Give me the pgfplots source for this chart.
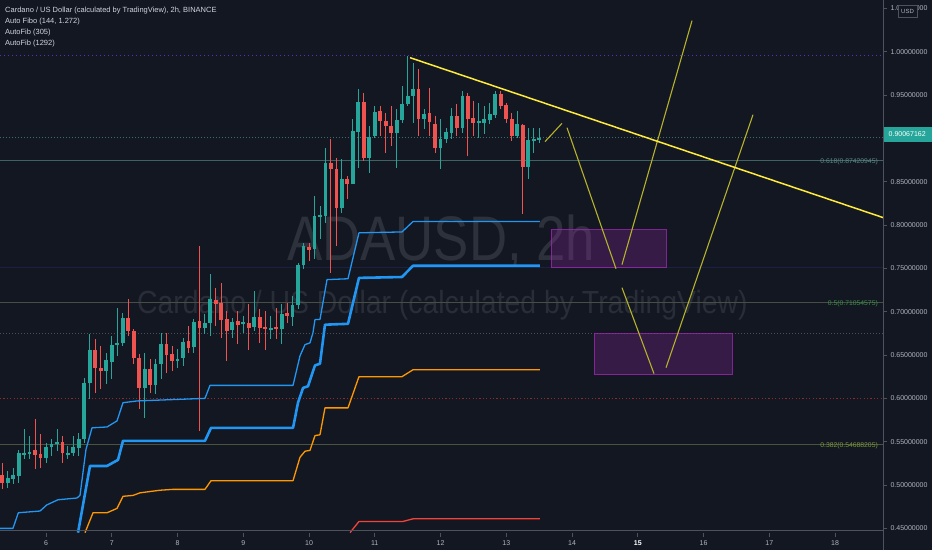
\documentclass[border=0pt]{standalone}
\usepackage{fontspec}
\setmainfont{Liberation Sans}
\usepackage{pgfplots}
\usepackage{pgfplotstable}
\pgfplotsset{compat=1.18}
\definecolor{bg}{HTML}{131722}
\definecolor{upc}{HTML}{26A69A}
\definecolor{dnc}{HTML}{EF5350}
\definecolor{axc}{HTML}{4C525E}
\definecolor{labc}{HTML}{B2B5BE}
\definecolor{legc}{HTML}{D1D4DC}
\definecolor{blu}{HTML}{2196F3}
\definecolor{org}{HTML}{FF9800}
\definecolor{rdl}{HTML}{F44336}
\definecolor{yel}{HTML}{FFEB3B}
\definecolor{oli}{HTML}{B5B22C}
\definecolor{rectc}{HTML}{9C27B0}
\definecolor{fibA}{HTML}{3F6363}
\definecolor{fibAt}{HTML}{5B8C88}
\definecolor{fibB}{HTML}{464E46}
\definecolor{fibBt}{HTML}{3F8F46}
\definecolor{fibC}{HTML}{4A5240}
\definecolor{fibCt}{HTML}{7F9A3A}
\definecolor{purd}{HTML}{5E2EB8}
\definecolor{redd}{HTML}{8B2C2C}
\definecolor{gryd}{HTML}{4A4E58}
\definecolor{prcd}{HTML}{3E6A68}
\definecolor{navy}{HTML}{1C2142}
\definecolor{wmA}{HTML}{2D313C}
\definecolor{wmB}{HTML}{292D38}

\pgfplotstableread{
t o h l c
5.4167 0.5027 0.5166 0.4970 0.5085
5.5 0.5073 0.5200 0.5008 0.5111
5.5833 0.5104 0.5408 0.5027 0.5365
5.6667 0.5350 0.5642 0.5296 0.5373
5.75 0.5365 0.5569 0.5296 0.5381
6.0 0.5316 0.5489 0.5258 0.5443
6.0833 0.5443 0.5527 0.5335 0.5469
6.1667 0.5469 0.5642 0.5393 0.5497
6.3333 0.5354 0.5451 0.5296 0.5373
6.4167 0.5373 0.5566 0.5335 0.5443
6.5 0.5431 0.5604 0.5335 0.5535
6.5833 0.5527 0.6239 0.5489 0.6181
6.6667 0.6181 0.6738 0.5988 0.6558
6.9167 0.6316 0.6527 0.6161 0.6443
7.0 0.6420 0.6720 0.6219 0.6611
7.0833 0.6611 0.7046 0.6489 0.6642
7.1667 0.6642 0.6989 0.6604 0.6931
7.5 0.6123 0.6527 0.5777 0.6334
7.6667 0.6150 0.6450 0.6046 0.6392
7.75 0.6392 0.6758 0.6219 0.6623
8.0 0.6431 0.6565 0.6354 0.6458
8.0833 0.6469 0.6700 0.6374 0.6651
8.25 0.6593 0.6911 0.6527 0.6885
8.4167 0.6816 0.6969 0.6738 0.6873
8.5 0.6865 0.7431 0.6720 0.7142
8.8333 0.6784 0.6931 0.6700 0.6885
9.0 0.6854 0.6951 0.6758 0.6881
9.1667 0.6819 0.7239 0.6777 0.6942
9.4167 0.6796 0.6951 0.6681 0.6816
9.5833 0.6796 0.7084 0.6623 0.6969
9.75 0.6942 0.7181 0.6835 0.7073
9.8333 0.7073 0.7566 0.7027 0.7534
9.9167 0.7534 0.7796 0.7488 0.7758
10.0833 0.7719 0.8335 0.7604 0.8104
10.1667 0.8096 0.8223 0.7834 0.8111
10.25 0.8104 0.8892 0.8027 0.8719
10.5 0.8200 0.8757 0.8142 0.8527
10.6667 0.8469 0.9219 0.8469 0.9085
10.75 0.9074 0.9565 0.8662 0.9420
10.9167 0.8777 0.9143 0.8604 0.9016
11.0 0.9027 0.9374 0.9008 0.9304
11.3333 0.9057 0.9334 0.8662 0.9207
11.4167 0.9207 0.9604 0.9181 0.9392
11.5 0.9392 0.9950 0.9374 0.9489
11.5833 0.9489 0.9873 0.9181 0.9565
11.75 0.9227 0.9334 0.9104 0.9285
12.0 0.8892 0.9219 0.8642 0.8996
12.0833 0.8996 0.9123 0.8950 0.9074
12.1667 0.9066 0.9354 0.8988 0.9258
12.3333 0.9123 0.9547 0.9066 0.9489
12.5833 0.9181 0.9412 0.9008 0.9200
12.6667 0.9181 0.9374 0.9046 0.9219
12.75 0.9212 0.9412 0.9161 0.9277
12.8333 0.9265 0.9547 0.9238 0.9507
13.1667 0.9027 0.9316 0.9008 0.9161
13.3333 0.8673 0.9123 0.8527 0.8981
13.4167 0.8970 0.9123 0.8835 0.8988
13.5 0.8981 0.9123 0.8950 0.9007
}\upcandles

\pgfplotstableread{
t o h l c
5.3333 0.5116 0.5258 0.4950 0.5027
5.8333 0.5400 0.5758 0.5181 0.5350
5.9167 0.5354 0.5584 0.5200 0.5316
6.25 0.5497 0.5566 0.5258 0.5373
6.75 0.6558 0.6689 0.6066 0.6354
6.8333 0.6354 0.6604 0.6104 0.6316
7.25 0.6931 0.7150 0.6720 0.6777
7.3333 0.6777 0.6796 0.6392 0.6469
7.4167 0.6469 0.6508 0.5873 0.6123
7.5833 0.6334 0.6450 0.6066 0.6150
7.8333 0.6623 0.6758 0.6296 0.6496
7.9167 0.6508 0.6604 0.6316 0.6431
8.1667 0.6658 0.6835 0.6527 0.6585
8.3333 0.6893 0.7758 0.5624 0.6816
8.5833 0.7135 0.7277 0.6835 0.7092
8.6667 0.7104 0.7335 0.6700 0.6904
8.75 0.6919 0.7008 0.6431 0.6777
8.9167 0.6888 0.7008 0.6623 0.6850
9.0833 0.6873 0.7084 0.6558 0.6816
9.25 0.6942 0.7027 0.6642 0.6816
9.3333 0.6827 0.7008 0.6558 0.6796
9.5 0.6827 0.7046 0.6681 0.6796
9.6667 0.6981 0.7104 0.6873 0.6951
10.0 0.7750 0.7796 0.7585 0.7712
10.3333 0.8719 0.8988 0.7450 0.8642
10.4167 0.8642 0.8777 0.7758 0.8200
10.5833 0.8527 0.8566 0.8296 0.8469
10.8333 0.9420 0.9527 0.8739 0.8777
11.0833 0.9316 0.9374 0.9027 0.9200
11.1667 0.9200 0.9296 0.8835 0.9143
11.25 0.9143 0.9374 0.8912 0.9057
11.6667 0.9565 0.9796 0.9027 0.9219
11.8333 0.9296 0.9585 0.9027 0.9189
11.9167 0.9169 0.9258 0.8835 0.8892
12.25 0.9258 0.9392 0.9027 0.9123
12.4167 0.9489 0.9527 0.8797 0.9219
12.5 0.9235 0.9431 0.9027 0.9181
12.9167 0.9507 0.9547 0.9334 0.9374
13.0 0.9380 0.9412 0.9181 0.9219
13.0833 0.9219 0.9296 0.8970 0.9027
13.25 0.9150 0.9161 0.8123 0.8673
}\dncandles

\begin{document}
\begin{tikzpicture}[x=1pt,y=1pt]
\fill[bg] (0,0) rectangle (932,550);
% watermark
\node[anchor=base west, inner sep=0, text=wmA, font=\fontsize{63}{63}\selectfont, xscale=0.838] at (287,290) {ADAUSD, 2h};
\node[anchor=base west, inner sep=0, text=wmB, font=\fontsize{32}{32}\selectfont, xscale=0.887] at (137,237) {Cardano / US Dollar (calculated by TradingView)};

\begin{axis}[
  at={(0,20)}, anchor=south west,
  scale only axis, width=883pt, height=530pt,
  xmin=5.3004, xmax=18.730, ymin=0.44503, ymax=1.05654,
  axis line style={draw=none},
  tick align=outside, major tick length=4pt,
  tick style={draw=axc, line width=0.8pt},
  xtick pos=lower, ytick pos=upper,
  xticklabel pos=lower, yticklabel pos=upper,
  xtick={6,7,8,9,10,11,12,13,14,15,16,17,18},
  xticklabels={6,7,8,9,10,11,12,13,14,{\color{white}\bfseries 15},16,17,18},
  ytick={0.45,0.5,0.55,0.6,0.65,0.7,0.75,0.8,0.85,0.9,0.95,1.0,1.05},
  yticklabels={0.45000000,0.50000000,0.55000000,0.60000000,0.65000000,0.70000000,0.75000000,0.80000000,0.85000000,{},0.95000000,1.00000000,1.05000000},
  xticklabel style={font=\fontsize{7}{8}\selectfont, text=labc},
  yticklabel style={font=\fontsize{7}{8}\selectfont, text=labc, anchor=west},
  clip=true,
]
% horizontal levels
\addplot[navy, line width=1.2pt] coordinates {(5.30,0.7508)(18.73,0.7508)};
\addplot[purd, line width=1.5pt, dash pattern=on 1.5pt off 2.5pt] coordinates {(5.30,0.9957)(18.73,0.9957)};
\addplot[prcd, line width=0.8pt, dash pattern=on 1pt off 2pt] coordinates {(5.30,0.9007)(18.73,0.9007)};
\addplot[fibA, line width=0.9pt] coordinates {(5.30,0.8742)(18.73,0.8742)};
\addplot[fibB, line width=0.9pt] coordinates {(5.30,0.7105)(18.73,0.7105)};
\addplot[gryd, line width=0.8pt, dash pattern=on 1pt off 2pt] coordinates {(5.30,0.6746)(18.73,0.6746)};
\addplot[redd, line width=1.0pt, dash pattern=on 1.2pt off 2.2pt] coordinates {(5.30,0.5996)(18.73,0.5996)};
\addplot[fibC, line width=0.9pt] coordinates {(5.30,0.5469)(18.73,0.5469)};

% candles: wicks
\addplot[draw=none, mark=none, error bars/.cd, y dir=both, y explicit, error mark=none,
  error bar style={draw=upc, line width=0.9pt}]
  table[x=t, y expr={(\thisrow{h}+\thisrow{l})/2}, y error expr={(\thisrow{h}-\thisrow{l})/2}] {\upcandles};
\addplot[draw=none, mark=none, error bars/.cd, y dir=both, y explicit, error mark=none,
  error bar style={draw=dnc, line width=0.9pt}]
  table[x=t, y expr={(\thisrow{h}+\thisrow{l})/2}, y error expr={(\thisrow{h}-\thisrow{l})/2}] {\dncandles};
% candles: bodies
\addplot[draw=none, mark=none, error bars/.cd, y dir=both, y explicit, error mark=none,
  error bar style={draw=upc, line width=3.8pt}]
  table[x=t, y expr={(\thisrow{o}+\thisrow{c})/2}, y error expr={max(abs(\thisrow{c}-\thisrow{o})/2,0.0005)}] {\upcandles};
\addplot[draw=none, mark=none, error bars/.cd, y dir=both, y explicit, error mark=none,
  error bar style={draw=dnc, line width=3.8pt}]
  table[x=t, y expr={(\thisrow{o}+\thisrow{c})/2}, y error expr={max(abs(\thisrow{c}-\thisrow{o})/2,0.0005)}] {\dncandles};

% AutoFib lines
\addplot[blu, line width=1.3pt, line join=round] coordinates {
(5.300,0.450)(5.498,0.450)(5.579,0.468)(5.909,0.470)(6.011,0.477)(6.182,0.483)(6.471,0.485)(6.517,0.488)(6.608,0.541)(6.700,0.566)(6.928,0.567)(7.080,0.574)(7.171,0.595)(7.384,0.597)(8.418,0.600)(8.494,0.615)(9.757,0.615)(9.863,0.649)(9.939,0.662)(10.015,0.664)(10.061,0.676)(10.091,0.691)(10.167,0.691)(10.274,0.737)(10.593,0.738)(10.760,0.791)(11.414,0.792)(11.582,0.804)(13.513,0.804)};
\addplot[blu, line width=2.6pt, line join=round] coordinates {
(6.487,0.445)(6.669,0.522)(6.928,0.522)(7.095,0.529)(7.171,0.551)(8.418,0.551)(8.510,0.566)(9.757,0.566)(9.833,0.595)(9.909,0.612)(9.985,0.614)(10.091,0.638)(10.167,0.640)(10.243,0.685)(10.593,0.686)(10.760,0.739)(11.414,0.740)(11.582,0.753)(13.513,0.753)};
\addplot[org, line width=1.3pt, line join=round] coordinates {
(6.593,0.445)(6.715,0.468)(6.928,0.468)(7.080,0.473)(7.171,0.487)(7.323,0.488)(7.430,0.491)(7.734,0.494)(7.932,0.495)(8.418,0.495)(8.510,0.505)(9.757,0.505)(9.863,0.532)(9.939,0.539)(10.015,0.540)(10.091,0.557)(10.167,0.558)(10.243,0.589)(10.593,0.589)(10.760,0.625)(11.414,0.625)(11.582,0.633)(13.513,0.633)};
\addplot[rdl, line width=1.3pt, line join=round] coordinates {
(10.624,0.445)(10.760,0.458)(11.430,0.458)(11.582,0.461)(13.513,0.461)};

% target boxes
\addplot[draw=rectc, draw opacity=0.8, fill=rectc, fill opacity=0.25, line width=0.8pt] coordinates {(13.680,0.7946)(15.430,0.7946)(15.430,0.7508)(13.680,0.7508)} -- cycle;
\addplot[draw=rectc, draw opacity=0.8, fill=rectc, fill opacity=0.25, line width=0.8pt] coordinates {(14.335,0.6746)(16.433,0.6746)(16.433,0.6273)(14.335,0.6273)} -- cycle;

% projection lines
\addplot[oli, line width=1.1pt] coordinates {(13.589,0.8962)(13.848,0.9173)};
\addplot[oli, line width=1.1pt] coordinates {(13.924,0.9123)(14.669,0.7496)};
\addplot[oli, line width=1.1pt] coordinates {(14.760,0.7543)(15.825,1.0358)};
\addplot[oli, line width=1.1pt] coordinates {(14.760,0.7277)(15.247,0.6285)};
\addplot[oli, line width=1.1pt] coordinates {(15.430,0.6354)(16.753,0.9273)};
% trend line
\addplot[yel, line width=1.5pt] coordinates {(11.536,0.9931)(18.730,0.8086)};
\end{axis}

% axis borders
\draw[axc, line width=0.9pt] (883,0) -- (883,550);
\draw[axc, line width=0.9pt] (0,20) -- (883,20);

% fib labels
\node[anchor=east, inner sep=0, text=fibAt, font=\fontsize{6.8}{7}\selectfont] at (878,388) {0.618(0.87420945)};
\node[anchor=east, inner sep=0, text=fibBt, font=\fontsize{6.8}{7}\selectfont] at (878,246) {0.5(0.71054575)};
\node[anchor=east, inner sep=0, text=fibCt, font=\fontsize{6.8}{7}\selectfont] at (878,104) {0.382(0.54688205)};

% current price label
\fill[upc] (884,408) rectangle (932,423);
\node[anchor=west, inner sep=0, text=white, font=\fontsize{7}{8}\selectfont] at (888.5,415.5) {0.90067162};
% currency box
\fill[bg] (898,533) rectangle (917,545);
\draw[axc, line width=0.6pt] (898,533) rectangle (917,545);
\node[inner sep=0, text=labc, font=\fontsize{6}{7}\selectfont] at (907.5,539) {USD};

% legend
\begin{scope}[every node/.style={anchor=west, inner sep=0, text=legc, font=\fontsize{7.5}{8}\selectfont}]
\node at (5,539) {Cardano / US Dollar (calculated by TradingView), 2h, BINANCE};
\node at (5,528) {Auto Fibo (144, 1.272)};
\node at (5,517) {AutoFib (305)};
\node at (5,506) {AutoFib (1292)};
\end{scope}
\pgfresetboundingbox
\path[use as bounding box] (0,0) rectangle (932,550);
\end{tikzpicture}
\end{document}
